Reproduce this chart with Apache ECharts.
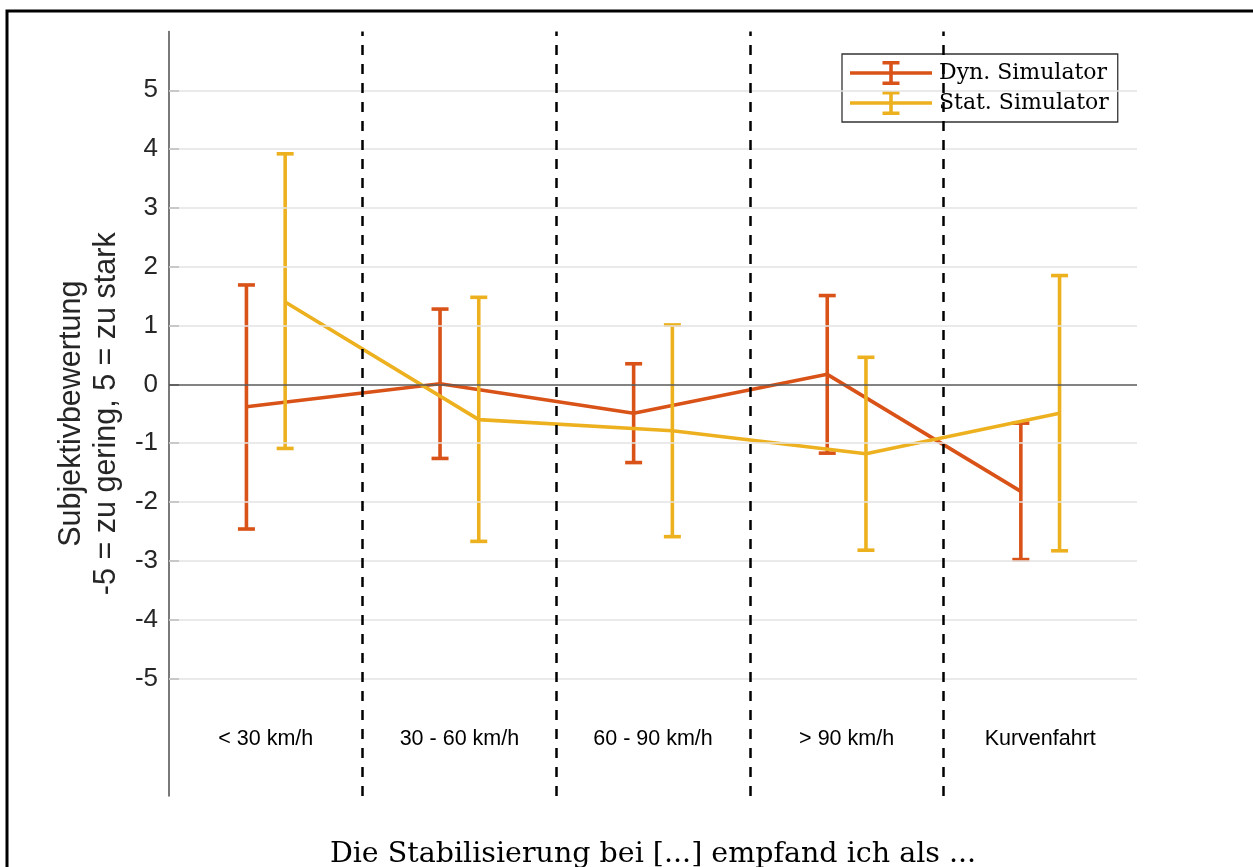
<!DOCTYPE html>
<html><head><meta charset="utf-8">
<script src="https://cdn.jsdelivr.net/npm/echarts@6/dist/echarts.min.js"></script>
<style>html,body{margin:0;padding:0;background:#fff}#c{width:1253px;height:867px}</style>
</head><body><div id="c"></div>
<script>
// ---- data ----
const categories = ['< 30 km/h', '30 - 60 km/h', '60 - 90 km/h', '> 90 km/h', 'Kurvenfahrt'];
const dynMean  = [-0.38, 0.01, -0.49, 0.17, -1.82];
const dynLow   = [-2.46, -1.26, -1.33, -1.17, -2.98];
const dynHigh  = [1.69, 1.28, 0.35, 1.51, -0.66];
const statMean = [1.40, -0.60, -0.79, -1.18, -0.49];
const statLow  = [-1.09, -2.67, -2.59, -2.82, -2.83];
const statHigh = [3.92, 1.48, 1.01, 0.46, 1.85];
const yTicks = [-5, -4, -3, -2, -1, 0, 1, 2, 3, 4, 5];
const seriesNames = ['Dyn. Simulator', 'Stat. Simulator'];
const xTitle = 'Die Stabilisierung bei [...] empfand ich als ...';
const yTitle = 'Subjektivbewertung\n-5 = zu gering, 5 = zu stark';

// ---- styling ----
const COLORS = ['#D95319', '#EDB120'];
const OFFSET = 0.1;
const SANS = 'Liberation Sans, Arial, sans-serif';
const SERIF = 'DejaVu Serif, serif';
const LW = 3.6;

const dynX = categories.map((c, i) => i + 1 - OFFSET);
const statX = categories.map((c, i) => i + 1 + OFFSET);
const boundaries = categories.slice(1).map((c, i) => i + 1.5);

function lineData(xs, ys) { return xs.map((x, i) => [x, ys[i]]); }
function errData(xs, lo, hi) { return xs.map((x, i) => [x, lo[i], hi[i]]); }

function errRenderer(color) {
  return function (params, api) {
    const x = api.value(0), lo = api.value(1), hi = api.value(2);
    const p1 = api.coord([x, lo]), p2 = api.coord([x, hi]);
    const hw = 8.5;
    const style = { stroke: color, lineWidth: LW, fill: null };
    return { type: 'group', children: [
      { type: 'line', shape: { x1: p1[0], y1: p1[1], x2: p2[0], y2: p2[1] }, style: style },
      { type: 'line', shape: { x1: p1[0] - hw, y1: p1[1], x2: p1[0] + hw, y2: p1[1] }, style: style },
      { type: 'line', shape: { x1: p2[0] - hw, y1: p2[1], x2: p2[0] + hw, y2: p2[1] }, style: style }
    ]};
  };
}

const ICON = 'path://M0 10.2h82v3.6H0z M39.2 0h3.6v24h-3.6z M32.5 0h17v3.6h-17z M32.5 20.4h17v3.6h-17z';

const chart = echarts.init(document.getElementById('c'), null, { renderer: 'canvas' });
const option = {
  animation: false,
  backgroundColor: '#fff',
  grid: { left: 169, right: 116, top: 31.5, bottom: 71, containLabel: false, outerBoundsMode: 'none' },
  legend: {
    data: seriesNames.map(n => ({ name: n, icon: ICON })),
    orient: 'vertical',
    left: 842, top: 54,
    padding: [7, 9, 7, 8],
    itemWidth: 82, itemHeight: 24, itemGap: 6,
    backgroundColor: '#fff', borderColor: '#333', borderWidth: 1.3, borderRadius: 0,
    itemStyle: { borderWidth: 0 },
    textStyle: { fontFamily: SERIF, fontSize: 22, color: '#000', padding: [0, 0, 0, 2] },
    selectedMode: false
  },
  graphic: [{
    type: 'polyline', silent: true,
    shape: { points: [[7, 867], [7, 11], [1253, 11]] },
    style: { stroke: '#000', lineWidth: 3, fill: null }
  }],
  xAxis: [{
    type: 'category', data: categories, position: 'bottom',
    axisLine: { show: false }, axisTick: { show: false }, splitLine: { show: false },
    axisLabel: { margin: -57, verticalAlign: 'middle', fontFamily: SANS, fontSize: 21.5, color: '#000' },
    name: xTitle, nameLocation: 'middle', nameGap: 44,
    nameTextStyle: { fontFamily: SERIF, fontSize: 28.5, color: '#000', verticalAlign: 'top' }
  }, {
    type: 'value', min: 0.5, max: 5.5, position: 'top', show: false
  }],
  yAxis: {
    type: 'value', min: -7, max: 6,
    axisLine: { show: true, lineStyle: { color: '#4d4d4d', width: 1.5 } },
    axisTick: { show: true, inside: true, length: 10, customValues: yTicks, lineStyle: { color: '#4d4d4d', width: 1.5 } },
    axisLabel: { customValues: yTicks, margin: 11, fontFamily: SANS, fontSize: 26, color: '#262626' },
    splitLine: { show: false },
    name: yTitle, nameLocation: 'middle', nameRotate: 90, nameGap: 39,
    nameTextStyle: { fontFamily: SANS, fontSize: 30.5, lineHeight: 35, color: '#262626', align: 'center' }
  },
  series: [
    {
      name: 'grid', type: 'line', xAxisIndex: 1, data: [], z: 0, silent: true,
      markLine: {
        silent: true, symbol: 'none', animation: false, label: { show: false },
        emphasis: { disabled: true },
        data: yTicks.map(v => ({
          yAxis: v,
          lineStyle: v === 0 ? { color: '#5a5a5a', width: 1.5, type: 'solid' } : { color: '#e3e3e3', width: 1.5, type: 'solid' }
        }))
      }
    },
    {
      name: seriesNames[0], type: 'line', xAxisIndex: 1, data: lineData(dynX, dynMean),
      symbol: 'none', lineStyle: { color: COLORS[0], width: LW }, itemStyle: { color: COLORS[0] }, z: 3
    },
    {
      name: seriesNames[0] + ' err', type: 'custom', xAxisIndex: 1, data: errData(dynX, dynLow, dynHigh),
      encode: { x: 0, y: [1, 2] }, renderItem: errRenderer(COLORS[0]), z: 3, silent: true
    },
    {
      name: seriesNames[1], type: 'line', xAxisIndex: 1, data: lineData(statX, statMean),
      symbol: 'none', lineStyle: { color: COLORS[1], width: LW }, itemStyle: { color: COLORS[1] }, z: 4
    },
    {
      name: seriesNames[1] + ' err', type: 'custom', xAxisIndex: 1, data: errData(statX, statLow, statHigh),
      encode: { x: 0, y: [1, 2] }, renderItem: errRenderer(COLORS[1]), z: 4, silent: true
    },
    {
      name: 'sep', type: 'line', xAxisIndex: 1, data: [], z: 6, silent: true,
      markLine: {
        silent: true, symbol: 'none', animation: false, label: { show: false },
        emphasis: { disabled: true },
        lineStyle: { color: '#000', width: 2.5, type: [10, 9] },
        data: boundaries.map(b => ({ xAxis: b }))
      }
    }
  ]
};
chart.setOption(option);
</script>
</body></html>
